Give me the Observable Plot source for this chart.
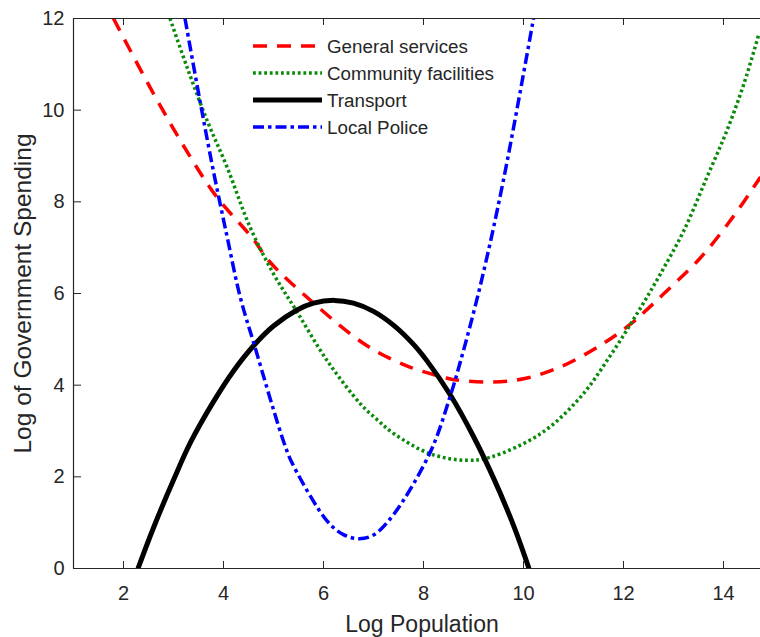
<!DOCTYPE html>
<html>
<head>
<meta charset="utf-8">
<script src="https://cdn.jsdelivr.net/npm/d3@7"></script>
<script src="https://cdn.jsdelivr.net/npm/@observablehq/plot@0.6"></script>
<style>
  body { margin: 0; background: #fff; }
  #chart { width: 760px; height: 637px; }
</style>
</head>
<body>
<div id="chart"></div>
<script>
// ---- data ----
const xLabel = "Log Population";
const yLabel = "Log of Government Spending";
const xTicks = [2, 4, 6, 8, 10, 12, 14];
const yTicks = [0, 2, 4, 6, 8, 10, 12];
const xDomain = [1, 14.74];
const yDomain = [0, 12];

const seriesNames = ["General services", "Community facilities", "Transport", "Local Police"];
const seriesColors = ["#ff0000", "#0a8a0a", "#000000", "#0000ff"];

const generalServices = [
  [1.8, 12.0], [2.6, 10.36], [3.33, 8.99], [3.87, 8.10], [4.6, 7.18], [4.9, 6.72],
  [5.74, 5.85], [6.87, 4.86], [7.74, 4.39], [8.41, 4.17], [8.61, 4.12], [9.34, 4.07],
  [10.0, 4.14], [10.74, 4.40], [11.54, 4.87], [12.14, 5.33], [12.41, 5.59], [12.81, 6.0],
  [13.54, 6.78], [14.21, 7.7], [14.74, 8.54]
];
const communityFacilities = [
  [2.93, 12.0], [3.27, 10.94], [3.67, 9.78], [4.07, 8.76], [4.53, 7.45], [5.0, 6.43],
  [5.47, 5.6], [6.07, 4.54], [6.74, 3.59], [7.07, 3.25], [7.41, 2.94], [8.14, 2.50],
  [8.87, 2.36], [9.34, 2.43], [10.34, 2.94], [11.14, 3.74], [11.74, 4.65], [12.27, 5.56],
  [12.74, 6.43], [13.21, 7.38], [13.67, 8.54], [14.07, 9.56], [14.41, 10.58], [14.71, 11.67]
];
const transport = [
  [2.29, 0], [2.6, 0.89], [3.0, 1.93], [3.34, 2.75], [3.8, 3.64], [4.2, 4.31], [4.61, 4.87],
  [5.0, 5.29], [5.47, 5.64], [5.8, 5.79], [6.21, 5.85], [6.6, 5.79], [7.0, 5.61], [7.41, 5.30],
  [7.8, 4.89], [8.07, 4.53], [8.54, 3.78], [9.0, 2.88], [9.41, 1.95], [9.8, 0.94], [10.11, 0]
];
const localPolice = [
  [3.23, 12.0], [3.53, 10.2], [3.8, 8.66], [4.07, 7.25], [4.33, 5.94], [4.61, 4.9],
  [5.24, 2.65], [5.41, 2.22], [6.07, 1.04], [6.4, 0.74], [6.71, 0.65], [7.0, 0.73],
  [7.41, 1.19], [8.14, 2.55], [8.54, 3.78], [8.74, 4.52], [9.14, 6.19], [9.6, 8.48],
  [10.2, 12.0]
];
const seriesData = [generalServices, communityFacilities, transport, localPolice];
const seriesWidths = [3.5, 3.5, 5, 3.5];
const seriesDashes = ["14,10", "2.8,2.8", null, "11,4,3.5,4"];

// ---- chart ----
const axisColor = "#262626";
const font = "'Liberation Sans', Arial, Helvetica, sans-serif";
const plotH = 637 - 18 - 69;
const plotW = 760 - 73;

const lineMarks = seriesData.map((data, i) =>
  Plot.line(data, {
    x: d => d[0], y: d => d[1],
    stroke: seriesColors[i], strokeWidth: seriesWidths[i],
    strokeDasharray: seriesDashes[i] || undefined,
    strokeLinecap: "butt", strokeLinejoin: "round",
    curve: "catmull-rom", clip: true
  })
);

const chart = Plot.plot({
  width: 760, height: 637,
  marginLeft: 73, marginRight: 0, marginTop: 18, marginBottom: 69,
  x: { domain: xDomain },
  y: { domain: yDomain },
  style: { fontFamily: font, color: axisColor, background: "white" },
  marks: [
    Plot.axisX({ ticks: xTicks, tickSize: 0, tickPadding: 17, fontSize: 20, label: null, fill: axisColor }),
    Plot.axisY({ ticks: yTicks, tickSize: 0, tickPadding: 9, fontSize: 20, label: null, fill: axisColor }),
    Plot.tickX(xTicks, { x: d => d, stroke: axisColor, insetTop: plotH - 7 }),
    Plot.tickX(xTicks, { x: d => d, stroke: axisColor, insetBottom: plotH - 7 }),
    Plot.tickY(yTicks, { y: d => d, stroke: axisColor, insetRight: plotW - 8 }),
    ...lineMarks,
    Plot.ruleX([xDomain[0]], { stroke: axisColor, strokeWidth: 1.2 }),
    Plot.ruleY([yDomain[0], yDomain[1]], { stroke: axisColor, strokeWidth: 1.2 }),
    Plot.text([xLabel], { text: d => d, frameAnchor: "bottom", textAnchor: "middle", dy: 56, dx: 5, fontSize: 23, lineAnchor: "middle", fill: axisColor }),
    Plot.text([yLabel], { text: d => d, frameAnchor: "left", textAnchor: "middle", dx: -50.5, rotate: -90, fontSize: 24.5, lineAnchor: "middle", fill: axisColor })
  ]
});
document.getElementById("chart").appendChild(chart);

// ---- legend (no box, upper middle) ----
const lg = d3.select(chart).append("g")
  .attr("font-family", font).attr("font-size", 18.8).attr("text-anchor", "start");
seriesNames.forEach((name, i) => {
  const y = 46 + i * 27;
  lg.append("line")
    .attr("x1", 253).attr("x2", 322).attr("y1", y).attr("y2", y)
    .attr("stroke", seriesColors[i]).attr("stroke-width", seriesWidths[i])
    .attr("stroke-dasharray", seriesDashes[i] || null)
    .attr("stroke-linecap", "butt");
  lg.append("text")
    .attr("x", 327).attr("y", y).attr("dy", "0.35em")
    .attr("fill", axisColor).text(name);
});
</script>
</body>
</html>
